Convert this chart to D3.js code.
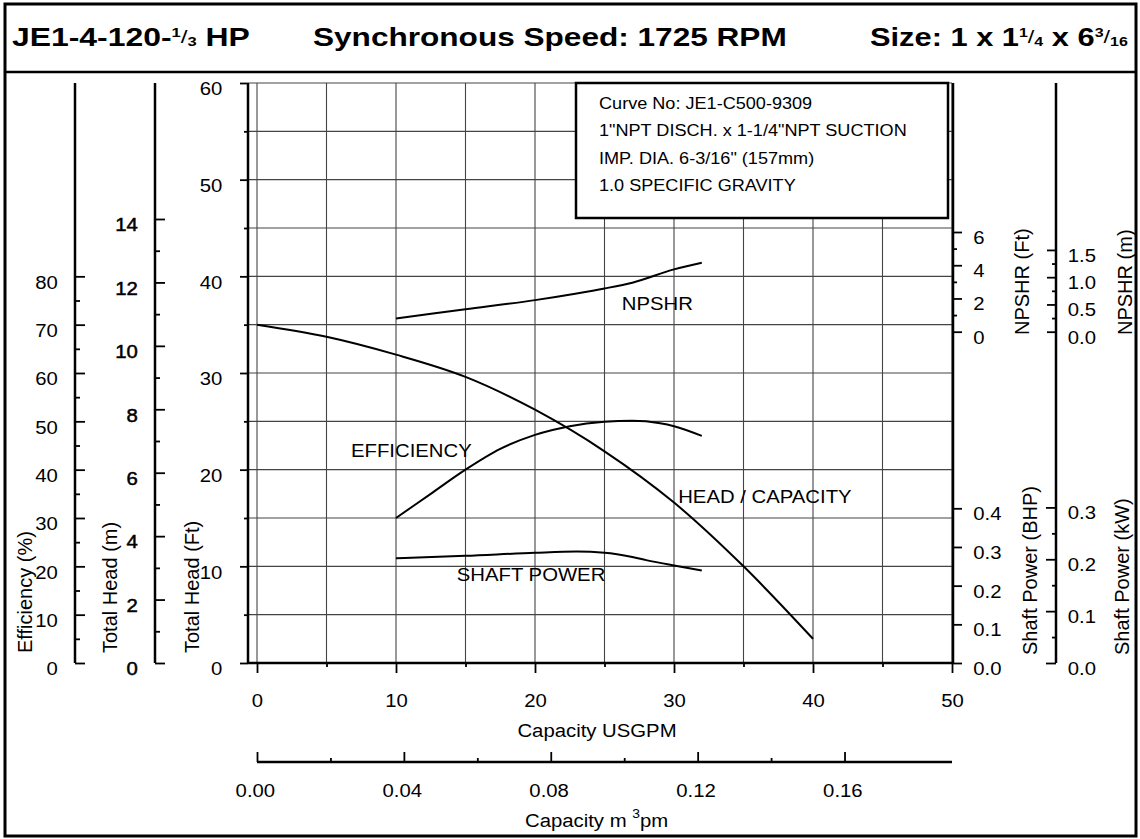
<!DOCTYPE html>
<html>
<head>
<meta charset="utf-8">
<script src="https://cdn.jsdelivr.net/npm/d3@7"></script>
<style>
  body { margin: 0; background: #fff; }
  svg { display: block; font-family: "Liberation Sans", Arial, sans-serif; }
</style>
</head>
<body>
<svg id="chart" width="1140" height="839"></svg>
<script>
// ---- data ----
const qHead   = [0, 5, 10, 15, 20, 25, 30, 35, 40];          // USGPM
const headFt  = [35.0, 33.75, 31.9, 29.6, 26.2, 21.9, 16.6, 10.0, 2.5];

const qEff    = [10, 12.5, 15, 17.5, 20, 22.5, 25, 27, 29, 30, 32];
const effPct  = [30, 35, 40, 44.3, 47.2, 49, 49.9, 50.1, 49.6, 49, 47];

const qNpsh   = [10, 15, 20, 23, 25, 27, 30, 32];
const npshFt  = [0.8, 1.35, 1.9, 2.3, 2.6, 2.95, 3.75, 4.15];

const qPower  = [10, 15, 20, 23, 25, 27, 28, 30, 32];
const powerBhp = [0.271, 0.277, 0.285, 0.288, 0.285, 0.274, 0.266, 0.252, 0.239];

// tick labels
const effTicks   = [0, 10, 20, 30, 40, 50, 60, 70, 80];
const headMTicks = [0, 2, 4, 6, 8, 10, 12, 14];
const headFtTicks = [0, 10, 20, 30, 40, 50, 60];
const qTicks     = [0, 10, 20, 30, 40, 50];
const m3Ticks    = [0, 0.04, 0.08, 0.12, 0.16];
const npshFtTicks = [0, 2, 4, 6];
const npshMTicks = [0, 0.5, 1.0, 1.5];
const bhpTicks   = [0, 0.1, 0.2, 0.3, 0.4];
const kwTicks    = [0, 0.1, 0.2, 0.3];

const infoLines = [
  "Curve No: JE1-C500-9309",
  "1\"NPT DISCH. x 1-1/4\"NPT SUCTION",
  "IMP. DIA. 6-3/16\" (157mm)",
  "1.0 SPECIFIC GRAVITY"
];

// ---- setup ----
const svg = d3.select("#chart");
const SX = 1.07;      // the source is slightly wider than tall
const FT_PER_M = 3.2808;
const M3_PER_GAL = 0.0037854;
const KW_PER_HP = 0.7457;

const plotTop = 83, plotBottom = 663, plotLeft = 257, plotRight = 952;

const x     = d3.scaleLinear().domain([0, 50]).range([plotLeft, plotRight]);
const xM3   = d3.scaleLinear().domain([0, 50 * M3_PER_GAL]).range([plotLeft, plotRight]);
const yFt   = d3.scaleLinear().domain([0, 60]).range([plotBottom, plotTop]);
const yM    = d3.scaleLinear().domain([0, 60 / FT_PER_M]).range([plotBottom, plotTop]);
const yEff  = d3.scaleLinear().domain([0, 120]).range([plotBottom, plotTop]);
const yNpshFt = d3.scaleLinear().domain([0, 6]).range([331.7, 232]);
const yNpshM  = d3.scaleLinear().domain([0, 6 / FT_PER_M]).range([331.7, 232]);
const yBhp  = d3.scaleLinear().domain([0, 0.4]).range([plotBottom, 508.3]);
const yKw   = d3.scaleLinear().domain([0, 0.4 * KW_PER_HP]).range([plotBottom, 508.3]);

// frame
svg.append("rect").attr("x", 5).attr("y", 4).attr("width", 1131).attr("height", 832)
  .attr("fill", "none").attr("stroke", "#000").attr("stroke-width", 3);
svg.append("line").attr("x1", 5).attr("x2", 1136).attr("y1", 72).attr("y2", 72)
  .attr("stroke", "#000").attr("stroke-width", 2.5);

// title
function titlePart(px, target, build) {
  const t = svg.append("text").attr("font-size", 25).attr("font-weight", "bold");
  build(t);
  const w = t.node().getComputedTextLength();
  t.attr("transform", `translate(${px},46) scale(${target / w},1)`);
}
function fraction(t, num, den) {
  t.append("tspan").attr("font-size", 13).attr("dy", -9).text(num);
  t.append("tspan").attr("font-size", 19).attr("font-weight", "normal").attr("dy", 6).text("/");
  t.append("tspan").attr("font-size", 13).attr("dy", 3).text(den);
}
titlePart(12, 238, t => {
  t.append("tspan").text("JE1-4-120-");
  fraction(t, "1", "3");
  t.append("tspan").text(" HP");
});
titlePart(313, 474, t => t.text("Synchronous Speed: 1725 RPM"));
titlePart(870, 258, t => {
  t.append("tspan").text("Size: 1 x 1");
  fraction(t, "1", "4");
  t.append("tspan").text(" x 6");
  fraction(t, "3", "16");
});

// grid
const grid = svg.append("g").attr("stroke", "#444").attr("stroke-width", 1.1);
grid.selectAll(".gv").data(d3.range(0, 51, 5)).join("line")
  .attr("x1", d => x(d)).attr("x2", d => x(d))
  .attr("y1", yFt(0)).attr("y2", yFt(60));
grid.selectAll(".gh").data(d3.range(0, 61, 5)).join("line")
  .attr("x1", 248).attr("x2", plotRight)
  .attr("y1", d => yFt(d)).attr("y2", d => yFt(d));

// axis lines
const axisLines = [
  [75, plotTop, 75, plotBottom], [155, plotTop, 155, plotBottom], [248, plotTop, 248, plotBottom],
  [953, plotTop, 953, plotBottom], [1056, plotTop, 1056, plotBottom],
  [248, plotBottom, 953, plotBottom], [plotLeft, 762, plotRight, 762]
];
svg.append("g").selectAll("line").data(axisLines).join("line")
  .attr("x1", d => d[0]).attr("y1", d => d[1]).attr("x2", d => d[2]).attr("y2", d => d[3])
  .attr("stroke", "#000").attr("stroke-width", 2.5);

function drawAxis(gen, tx, ty) {
  const g = svg.append("g").attr("transform", `translate(${tx},${ty})`).call(gen)
    .attr("font-size", null).attr("font-family", null);
  g.select(".domain").remove();
  g.selectAll(".tick line").attr("stroke", "#000").attr("stroke-width", 1.8);
  g.selectAll(".tick text").attr("font-size", 19).attr("fill", "#000")
    .attr("transform", `scale(${SX},1)`);
  return g;
}
const noLabel = () => "";
const f1 = d3.format(".1f");

// left axes
drawAxis(d3.axisLeft(yEff).tickValues(effTicks).tickSizeInner(-10).tickSizeOuter(0).tickPadding(16), 75, 0)
  .selectAll("text").attr("dy", "0.62em");
drawAxis(d3.axisLeft(yEff).tickValues(d3.range(5, 80, 10)).tickSizeInner(-5).tickSizeOuter(0).tickFormat(noLabel), 75, 0);

drawAxis(d3.axisLeft(yM).tickValues(headMTicks).tickSizeInner(-10).tickSizeOuter(0).tickPadding(16), 155, 0)
  .selectAll("text").attr("dy", "0.62em").attr("stroke", "#000").attr("stroke-width", 0.5);
drawAxis(d3.axisLeft(yM).tickValues(d3.range(1, 14, 2)).tickSizeInner(-5).tickSizeOuter(0).tickFormat(noLabel), 155, 0);

drawAxis(d3.axisLeft(yFt).tickValues(headFtTicks).tickSizeInner(8).tickSizeOuter(0).tickPadding(16), 248, 0)
  .selectAll("text").attr("dy", "0.62em");
drawAxis(d3.axisLeft(yFt).tickValues(d3.range(5, 60, 10)).tickSizeInner(4).tickSizeOuter(0).tickFormat(noLabel), 248, 0);

// right axes
drawAxis(d3.axisRight(yNpshFt).tickValues(npshFtTicks).tickSizeInner(9).tickSizeOuter(0).tickPadding(10)
  .tickFormat(d3.format("d")), 953, 0)
  .selectAll("text").attr("dy", "0.6em");
drawAxis(d3.axisRight(yNpshFt).tickValues([1, 3, 5]).tickSizeInner(4).tickSizeOuter(0).tickFormat(noLabel), 953, 0);
drawAxis(d3.axisRight(yBhp).tickValues(bhpTicks).tickSizeInner(9).tickSizeOuter(0).tickPadding(10)
  .tickFormat(f1), 953, 0)
  .selectAll("text").attr("dy", "0.6em");

drawAxis(d3.axisRight(yNpshM).tickValues(npshMTicks).tickSizeInner(-9).tickSizeOuter(0).tickPadding(11)
  .tickFormat(f1), 1056, 0)
  .selectAll("text").attr("dy", "0.6em");
drawAxis(d3.axisRight(yNpshM).tickValues([0.25, 0.75, 1.25]).tickSizeInner(-4).tickSizeOuter(0).tickFormat(noLabel), 1056, 0);
drawAxis(d3.axisRight(yKw).tickValues(kwTicks).tickSizeInner(-10).tickSizeOuter(0).tickPadding(11)
  .tickFormat(f1), 1056, 0)
  .selectAll("text").attr("dy", "0.6em");
drawAxis(d3.axisRight(yKw).tickValues([0.05, 0.15, 0.25]).tickSizeInner(-4).tickSizeOuter(0).tickFormat(noLabel), 1056, 0);

// bottom axes
drawAxis(d3.axisBottom(x).tickValues(qTicks).tickSizeInner(10).tickSizeOuter(0), 0, plotBottom)
  .selectAll("text").attr("y", 44).attr("dy", 0);
drawAxis(d3.axisBottom(x).tickValues(d3.range(5, 50, 10)).tickSizeInner(4).tickSizeOuter(0).tickFormat(noLabel), 0, plotBottom);

drawAxis(d3.axisBottom(xM3).tickValues(m3Ticks).tickSizeInner(-10).tickSizeOuter(0)
  .tickFormat(d3.format(".2f")), 0, 762)
  .selectAll("text").attr("y", 35).attr("dy", 0).attr("x", -2);
drawAxis(d3.axisBottom(xM3).tickValues([0.02, 0.06, 0.10, 0.14]).tickSizeInner(-4).tickSizeOuter(0).tickFormat(noLabel), 0, 762);

// text helper
function label(str, px, py, opts = {}) {
  const rot = opts.rotate ? " rotate(-90)" : "";
  const sx = opts.sx != null ? opts.sx : SX;
  return svg.append("text")
    .attr("transform", `translate(${px},${py})${rot} scale(${sx},1)`)
    .attr("font-size", opts.size || 19)
    .attr("text-anchor", opts.anchor || "start")
    .attr("fill", "#000")
    .text(str);
}

// axis titles
label("Efficiency (%)", 32, 653, { rotate: true, sx: 1, size: 20 });
label("Total Head (m)", 117, 653, { rotate: true, sx: 1, size: 20 });
label("Total Head (Ft)", 199, 653, { rotate: true, sx: 1, size: 20 });
label("NPSHR (Ft)", 1029, 335, { rotate: true, sx: 1, size: 20 });
label("NPSHR (m)", 1132, 335, { rotate: true, sx: 1, size: 20 });
label("Shaft Power (BHP)", 1037, 655, { rotate: true, sx: 1, size: 20 });
label("Shaft Power (kW)", 1129, 655, { rotate: true, sx: 1, size: 20 });
label("Capacity USGPM", 597, 737, { anchor: "middle" });
const m3Title = label("Capacity m ", 525, 827);
m3Title.append("tspan").attr("font-size", 13).attr("dy", -9).text("3");
m3Title.append("tspan").attr("dy", 9).text("pm");

// info box
svg.append("rect").attr("x", 576).attr("y", 83).attr("width", 372).attr("height", 135)
  .attr("fill", "#fff").attr("stroke", "#000").attr("stroke-width", 2.5);
infoLines.forEach((s, i) => label(s, 599, 109 + i * 27.3, { size: 17, sx: 1.065 }));

// curves
const line = d3.line().curve(d3.curveMonotoneX);
const curves = svg.append("g").attr("fill", "none").attr("stroke", "#000").attr("stroke-width", 2);
curves.append("path").attr("d", line(qHead.map((q, i) => [x(q), yFt(headFt[i])])));
curves.append("path").attr("d", line(qEff.map((q, i) => [x(q), yEff(effPct[i])])));
curves.append("path").attr("d", line(qNpsh.map((q, i) => [x(q), yNpshFt(npshFt[i])])));
curves.append("path").attr("d", line(qPower.map((q, i) => [x(q), yBhp(powerBhp[i])])));

// curve names
label("NPSHR", x(26.24), yFt(36.5));
label("EFFICIENCY", x(6.76), yFt(21.34));
label("HEAD / CAPACITY", x(30.3), yFt(16.52));
label("SHAFT POWER", x(14.37), yFt(8.51));
</script>
</body>
</html>
